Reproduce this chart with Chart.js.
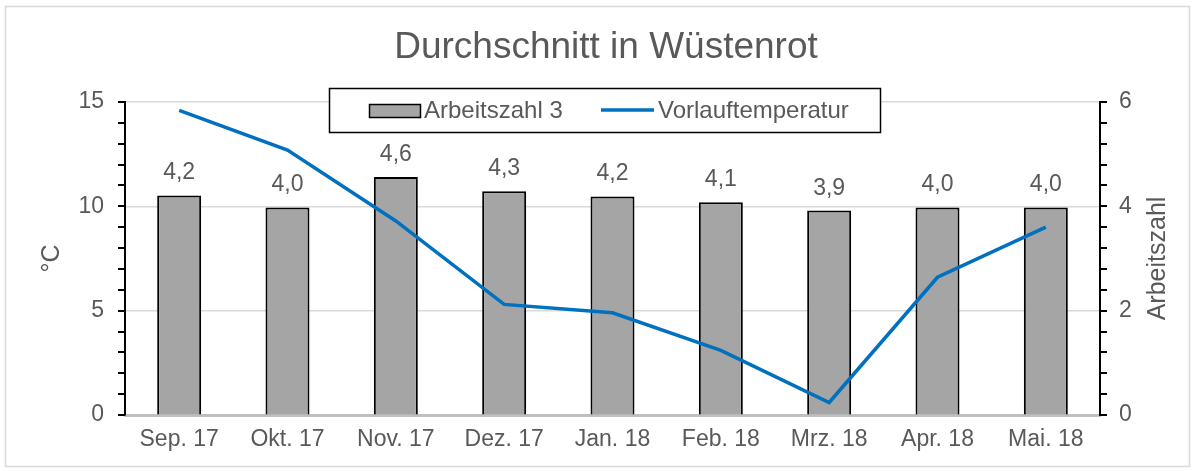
<!DOCTYPE html>
<html>
<head>
<meta charset="utf-8">
<script src="https://cdn.jsdelivr.net/npm/chart.js@4"></script>
<style>
  body { margin: 0; background: #fff; }
</style>
</head>
<body>
<canvas id="chart" width="1195" height="471"></canvas>
<script>
// Daten
const months = ['Sep. 17', 'Okt. 17', 'Nov. 17', 'Dez. 17', 'Jan. 18', 'Feb. 18', 'Mrz. 18', 'Apr. 18', 'Mai. 18'];
const arbeitszahl = [4.21, 3.98, 4.56, 4.29, 4.19, 4.08, 3.92, 3.98, 3.98];
const vorlauf = [14.6, 12.7, 9.3, 5.3, 4.9, 3.1, 0.6, 6.6, 9.0];
const tempMinor = 1;   // Teilstriche °C
const azMinor = 0.4;   // Teilstriche Arbeitszahl

const FONT = 'Liberation Sans, Arial, sans-serif';
const GREY_TEXT = '#595959';
const BAR_COLOR = '#a5a5a5';
const LINE_COLOR = '#0070c0';

const decoPlugin = {
    id: 'deco',
    afterDatasetsDraw(chart) {
        const ctx = chart.ctx;
        const area = chart.chartArea;
        ctx.save();

        // Teilstriche an beiden y-Achsen
        ctx.fillStyle = '#000';
        const left = chart.scales.y;
        for (let k = 0; k <= Math.round(left.max / tempMinor); k++) {
            const py = Math.round(left.getPixelForValue(k * tempMinor));
            ctx.fillRect(area.left - 7, py - 1, 7, 2);
        }
        const right = chart.scales.y1;
        for (let k = 0; k <= Math.round(right.max / azMinor); k++) {
            const py = Math.round(right.getPixelForValue(k * azMinor));
            ctx.fillRect(area.right, py - 1, 7, 2);
        }

        // Werte über den Balken
        const meta = chart.getDatasetMeta(1);
        ctx.fillStyle = GREY_TEXT;
        ctx.font = '23px ' + FONT;
        ctx.textAlign = 'center';
        ctx.textBaseline = 'alphabetic';
        meta.data.forEach((bar, i) => {
            ctx.fillText(arbeitszahl[i].toFixed(1).replace('.', ','), bar.x, bar.y - 16);
        });

        // Titel
        ctx.font = '37px ' + FONT;
        ctx.textBaseline = 'middle';
        ctx.fillText('Durchschnitt in Wüstenrot', 606, 48);

        // Achsentitel
        ctx.font = '25px ' + FONT;
        ctx.save();
        ctx.translate(52, (area.top + area.bottom) / 2);
        ctx.rotate(-Math.PI / 2);
        ctx.fillText('°C', 0, 0);
        ctx.restore();
        ctx.save();
        ctx.translate(1158, (area.top + area.bottom) / 2);
        ctx.rotate(-Math.PI / 2);
        ctx.fillText('Arbeitszahl', 0, 0);
        ctx.restore();

        // Legende
        ctx.fillStyle = '#fff';
        ctx.fillRect(329, 88, 551, 44);
        ctx.strokeStyle = '#000';
        ctx.lineWidth = 1.5;
        ctx.strokeRect(329.5, 88.5, 551, 44);
        ctx.fillStyle = BAR_COLOR;
        ctx.fillRect(369, 104, 51, 13);
        ctx.strokeRect(369.5, 104.5, 51, 13);
        ctx.strokeStyle = LINE_COLOR;
        ctx.lineWidth = 3.5;
        ctx.beginPath();
        ctx.moveTo(601, 110);
        ctx.lineTo(654, 110);
        ctx.stroke();
        ctx.fillStyle = GREY_TEXT;
        ctx.font = '24px ' + FONT;
        ctx.textAlign = 'left';
        ctx.fillText('Arbeitszahl 3', 424, 111);
        ctx.fillText('Vorlauftemperatur', 658, 111);

        // Rahmen
        ctx.strokeStyle = '#d9d9d9';
        ctx.lineWidth = 1.5;
        ctx.strokeRect(5.5, 6.5, 1184, 460);
        ctx.restore();
    }
};

new Chart(document.getElementById('chart'), {
    data: {
        labels: months,
        datasets: [
            {
                type: 'line',
                label: 'Vorlauftemperatur',
                data: vorlauf,
                yAxisID: 'y',
                borderColor: LINE_COLOR,
                borderWidth: 3.5,
                pointRadius: 0,
                tension: 0,
                fill: false,
                order: 0
            },
            {
                type: 'bar',
                label: 'Arbeitszahl 3',
                data: arbeitszahl,
                yAxisID: 'y1',
                backgroundColor: BAR_COLOR,
                borderColor: '#000',
                borderWidth: 2,
                barPercentage: 0.406,
                categoryPercentage: 1,
                order: 1
            }
        ]
    },
    options: {
        responsive: false,
        animation: false,
        layout: { padding: { top: 102, left: 0, right: 0, bottom: 0 } },
        plugins: {
            legend: { display: false },
            title: { display: false },
            tooltip: { enabled: false }
        },
        scales: {
            x: {
                grid: { display: false, drawTicks: false },
                border: { color: '#bfbfbf', width: 3 },
                ticks: { color: GREY_TEXT, font: { family: FONT, size: 23 }, padding: 11, maxRotation: 0 },
                afterFit: s => { s.height = 56; }
            },
            y: {
                position: 'left',
                min: 0,
                max: 15,
                grid: {
                    color: '#d9d9d9',
                    lineWidth: 1.5,
                    drawTicks: false
                },
                border: { color: '#000', width: 2 },
                ticks: {
                    stepSize: 5,
                    padding: 21,
                    color: GREY_TEXT,
                    font: { family: FONT, size: 23 }
                },
                afterFit: s => { s.width = 125; }
            },
            y1: {
                position: 'right',
                min: 0,
                max: 6,
                grid: { drawOnChartArea: false, drawTicks: false },
                border: { color: '#000', width: 2 },
                ticks: {
                    stepSize: 2,
                    padding: 19,
                    color: GREY_TEXT,
                    font: { family: FONT, size: 23 }
                },
                afterFit: s => { s.width = 95; }
            }
        }
    },
    plugins: [decoPlugin]
});
</script>
</body>
</html>
